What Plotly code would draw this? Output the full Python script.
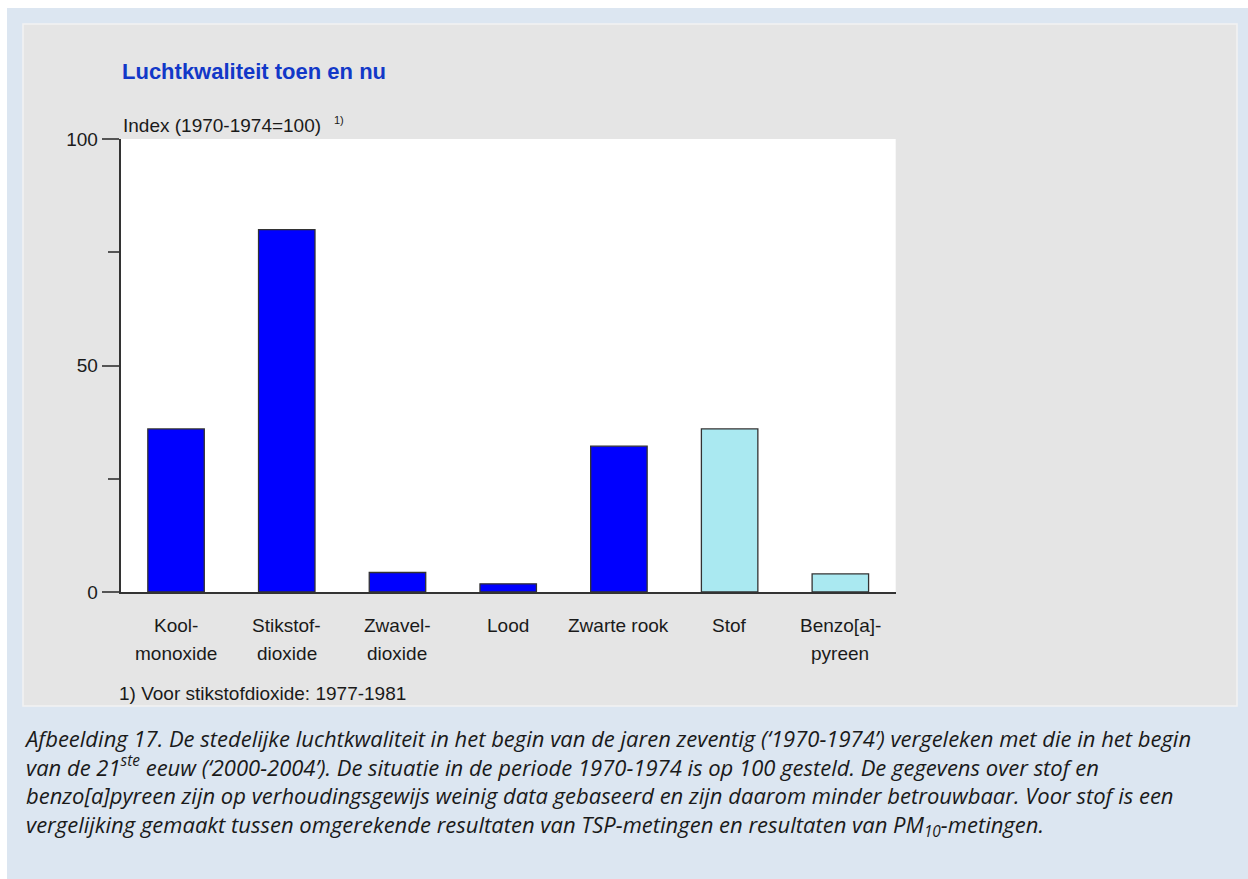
import plotly.graph_objects as go

# Index values (1970-1974 = 100) for each pollutant
categories = ["Kool-<br>monoxide", "Stikstof-<br>dioxide", "Zwavel-<br>dioxide",
              "Lood", "Zwarte rook", "Stof", "Benzo[a]-<br>pyreen"]
index_values = [36, 80, 4.3, 1.8, 32.2, 36, 4.0]
# Stof and benzo[a]pyreen rest on few data and are shown in a lighter colour
less_reliable = [False, False, False, False, False, True, True]

y_tick_values = [0, 50, 100]
y_tick_labels = ["0", "50", "100"]
y_minor_ticks = [25, 75]

title_text = "Luchtkwaliteit toen en nu"
axis_caption = "Index (1970-1974=100)"
footnote_mark = "1)"
footnote_text = "1) Voor stikstofdioxide: 1977-1981"
caption_lines = [
    "Afbeelding 17. De stedelijke luchtkwaliteit in het begin van de jaren zeventig (‘1970-1974’) vergeleken met die in het begin",
    "van de 21<sup>ste</sup> eeuw (‘2000-2004’). De situatie in de periode 1970-1974 is op 100 gesteld. De gegevens over stof en",
    "benzo[a]pyreen zijn op verhoudingsgewijs weinig data gebaseerd en zijn daarom minder betrouwbaar. Voor stof is een",
    "vergelijking gemaakt tussen omgerekende resultaten van TSP-metingen en resultaten van PM<sub>10</sub>-metingen.",
]

W, H = 1248, 879
DARK_BLUE = "#0000ff"
LIGHT_CYAN = "#aae9f1"
PAGE_BLUE = "#dce6f1"
PANEL_GREY = "#e5e5e5"
TEXT = "#1a1a1a"
ARIAL = "Liberation Sans, Arial, sans-serif"
CAPTION_FONT = "Open Sans, sans-serif"


def px_x(v):
    return v / W


def px_y(v):
    return 1 - v / H


# plot area in pixels
PL, PR, PT, PB = 120.7, 895.7, 139, 592

bar_colors = [LIGHT_CYAN if f else DARK_BLUE for f in less_reliable]

fig = go.Figure()
fig.add_trace(go.Bar(
    x=categories,
    y=index_values,
    marker=dict(color=bar_colors, line=dict(color="#333333", width=1.3)),
    width=0.51,
    hoverinfo="x+y",
))

shapes = [
    # light blue caption block
    dict(type="rect", xref="paper", yref="paper", x0=px_x(7), x1=1, y0=0, y1=px_y(8),
         fillcolor=PAGE_BLUE, line=dict(width=0), layer="below"),
    # grey chart panel
    dict(type="rect", xref="paper", yref="paper", x0=px_x(23), x1=px_x(1237), y0=px_y(706), y1=px_y(24),
         fillcolor=PANEL_GREY, line=dict(color="#f2f2f2", width=1.5), layer="below"),
    # white plotting area
    dict(type="rect", xref="paper", yref="paper", x0=px_x(PL), x1=px_x(PR), y0=px_y(PB), y1=px_y(PT),
         fillcolor="white", line=dict(width=0), layer="below"),
]

annotations = []


def add_text(text, x, center_px, size, color=TEXT, family=ARIAL, xanchor="left", xref="paper", italic=False):
    font = dict(size=size, color=color, family=family)
    if italic:
        font["style"] = "italic"
    annotations.append(dict(
        text=text, x=x, xref=xref, xanchor=xanchor, align="left" if xanchor == "left" else "center",
        y=px_y(center_px), yref="paper", yanchor="middle",
        showarrow=False, font=font,
    ))


def add_line(text, x, baseline, size, **kw):
    # place a single text line by its baseline
    add_text(text, x, baseline - 0.35 * size, size, **kw)


add_line("<b>" + title_text + "</b>", px_x(120), 79, 22, color="#1238c8")
add_line(axis_caption, px_x(121), 132, 19)
add_line(footnote_mark, px_x(332), 124, 11)
add_line(footnote_text, px_x(117), 700, 19)

# two-row category labels under the bars
for i, cat in enumerate(categories):
    for row, part in enumerate(cat.split("<br>")):
        add_line(part, i, 632 + 28 * row, 19, xanchor="center", xref="x")

# figure caption as one four-line block
CAP_SIZE = 22
cap_first_baseline = 747
cap_last_baseline = cap_first_baseline + 3 * 1.3 * CAP_SIZE
add_text("<br>".join(caption_lines), px_x(22),
         (cap_first_baseline + cap_last_baseline) / 2 - 0.35 * CAP_SIZE,
         CAP_SIZE, family=CAPTION_FONT, italic=True)

fig.update_layout(
    width=W, height=H,
    margin=dict(l=0, r=0, t=0, b=0, autoexpand=False),
    paper_bgcolor="white",
    plot_bgcolor="rgba(0,0,0,0)",
    showlegend=False,
    shapes=shapes,
    annotations=annotations,
    xaxis=dict(
        domain=[px_x(PL), px_x(PR)],
        type="category",
        range=[-0.5, 6.5],
        showticklabels=False,
        ticks="",
        showgrid=False,
        zeroline=False,
        automargin=False,
        showline=True, linecolor="#333333", linewidth=1.6,
        fixedrange=True,
    ),
    yaxis=dict(
        domain=[px_y(PB), px_y(PT)],
        range=[0, 100],
        tickvals=y_tick_values,
        ticktext=y_tick_labels,
        ticks="outside", ticklen=17, tickwidth=2, tickcolor="#555555",
        minor=dict(tickvals=y_minor_ticks, ticks="outside", ticklen=11, tickwidth=2,
                   tickcolor="#555555", showgrid=False),
        tickfont=dict(size=19, color=TEXT, family=ARIAL),
        showgrid=False,
        zeroline=False,
        automargin=False,
        showline=True, linecolor="#333333", linewidth=2,
        fixedrange=True,
    ),
)

fig.write_html("out.html")
